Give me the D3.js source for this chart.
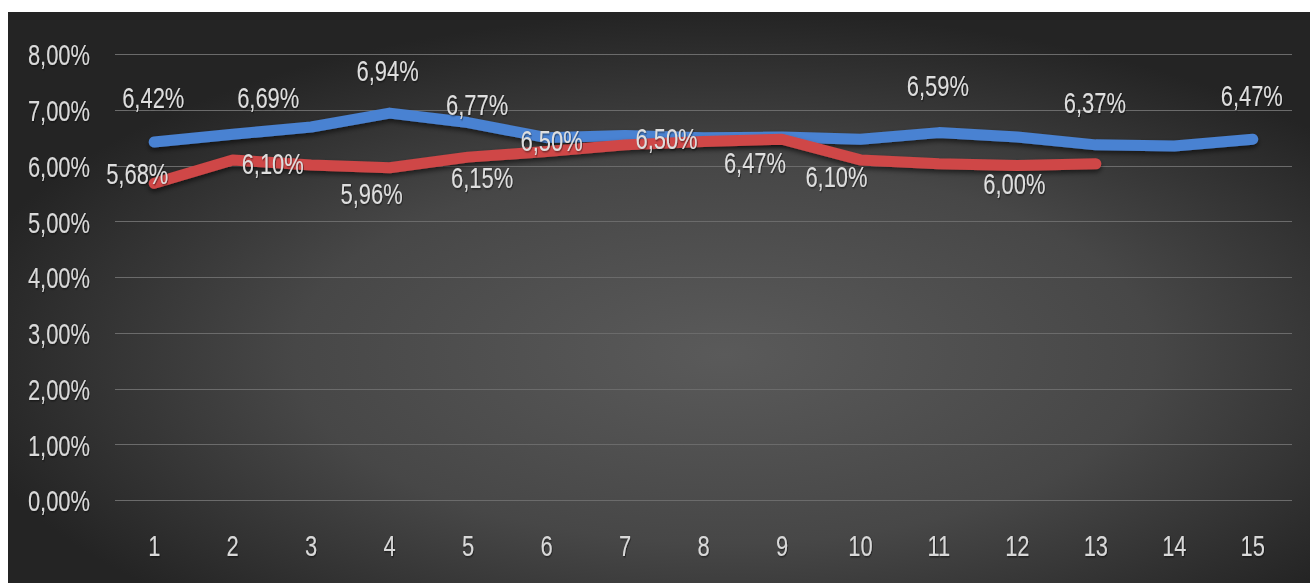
<!DOCTYPE html>
<html>
<head>
<meta charset="utf-8">
<script src="https://cdn.jsdelivr.net/npm/d3@7"></script>
<style>
  html, body { margin: 0; padding: 0; background: #ffffff; }
  svg { display: block; }
  text { font-family: "Liberation Sans", Arial, sans-serif; }
</style>
</head>
<body>
<svg id="chart" width="1310" height="583"></svg>
<script>
// ---- data ----
const categories = [1, 2, 3, 4, 5, 6, 7, 8, 9, 10, 11, 12, 13, 14, 15];
const blueValues = [6.42, 6.56, 6.69, 6.94, 6.77, 6.50, 6.54, 6.50, 6.51, 6.47, 6.59, 6.51, 6.37, 6.35, 6.47];
const redValues  = [5.68, 6.10, 6.01, 5.96, 6.15, 6.25, 6.37, 6.43, 6.47, 6.10, 6.03, 6.00, 6.03];
const yTicks = [0, 1, 2, 3, 4, 5, 6, 7, 8];
// which points carry a data label
const blueLabeled = [1, 3, 4, 5, 6, 8, 11, 13, 15];
const redLabeled  = [1, 2, 4, 5, 9, 10, 12];

// ---- layout (label offsets in px, relative to the point) ----
const blueLabelOffsets = {1:[-1,-45], 3:[-43,-30], 4:[-2,-43], 5:[9,-18], 6:[5,3], 8:[-37,1], 11:[-1,-47], 13:[-1,-43], 15:[-1,-44]};
const redLabelOffsets  = {1:[-17,-10], 2:[40,3], 4:[-18,25], 5:[14,20], 9:[-27,23], 10:[-24,16], 12:[-3,18]};

const FS = 30, SX = 0.73;

const svg = d3.select("#chart");
const W = 1310, H = 583;

const defs = svg.append("defs");
const grad = defs.append("radialGradient")
  .attr("id", "bg").attr("cx", "0.55").attr("cy", "0.6").attr("r", "0.6")
  .attr("fx", "0.55").attr("fy", "0.6");
grad.append("stop").attr("offset", "0").attr("stop-color", "#5a5a5a");
grad.append("stop").attr("offset", "0.55").attr("stop-color", "#474747");
grad.append("stop").attr("offset", "1").attr("stop-color", "#242424");

const shadow = defs.append("filter").attr("id", "shadow")
  .attr("x", "-5%").attr("y", "-50%").attr("width", "110%").attr("height", "200%");
shadow.append("feDropShadow").attr("dx", 0).attr("dy", 3).attr("stdDeviation", 2.5)
  .attr("flood-color", "#000").attr("flood-opacity", 0.55);

const tshadow = defs.append("filter").attr("id", "tshadow")
  .attr("x", "-20%").attr("y", "-20%").attr("width", "140%").attr("height", "140%");
tshadow.append("feDropShadow").attr("dx", 1).attr("dy", 1).attr("stdDeviation", 1)
  .attr("flood-color", "#000").attr("flood-opacity", 0.6);

svg.append("rect").attr("x", 8).attr("y", 12).attr("width", W - 8).attr("height", H - 12)
  .attr("fill", "url(#bg)");

const x = d3.scaleBand().domain(categories).range([115, 1292]);
const y = d3.scaleLinear().domain([0, 8]).range([500, 54]);
const cx = d => x(d) + x.bandwidth() / 2;

// gridlines
svg.append("g").selectAll("line").data(yTicks).join("line")
  .attr("x1", 115).attr("x2", 1292)
  .attr("y1", d => Math.round(y(d)) + 0.5).attr("y2", d => Math.round(y(d)) + 0.5)
  .attr("stroke", "#6b6b6b").attr("stroke-width", 1.2);

// y axis
const yAxis = d3.axisLeft(y).tickValues(yTicks)
  .tickFormat(d => d3.format(".2f")(d).replace(".", ",") + "%")
  .tickSize(0).tickPadding(0);
const gy = svg.append("g").attr("transform", "translate(90,0)").call(yAxis);
gy.select(".domain").remove();
gy.selectAll("text").attr("fill", "#d9d9d9").attr("font-size", FS)
  .attr("x", 0).attr("dy", "0.36em").attr("transform", `scale(${SX},1)`)
  .attr("filter", "url(#tshadow)");

// x axis
const xAxis = d3.axisBottom(x).tickSize(0).tickPadding(0);
const gx = svg.append("g").attr("transform", "translate(0,545)").call(xAxis);
gx.select(".domain").remove();
gx.selectAll("text").attr("fill", "#d9d9d9").attr("font-size", FS)
  .attr("y", 0).attr("dy", "0.36em").attr("transform", `scale(${SX},1)`)
  .attr("filter", "url(#tshadow)");

// lines
const line = d3.line()
  .x((d, i) => cx(categories[i]))
  .y(d => y(d))
  .curve(d3.curveLinear);

svg.append("path").datum(blueValues).attr("d", line)
  .attr("fill", "none").attr("stroke", "#4a82d2").attr("stroke-width", 11)
  .attr("stroke-linecap", "round").attr("stroke-linejoin", "round")
  .attr("filter", "url(#shadow)");

svg.append("path").datum(redValues).attr("d", line)
  .attr("fill", "none").attr("stroke", "#cf4747").attr("stroke-width", 11)
  .attr("stroke-linecap", "round").attr("stroke-linejoin", "round")
  .attr("filter", "url(#shadow)");

// data labels
const fmt = v => d3.format(".2f")(v).replace(".", ",") + "%";
function labels(values, labeled, offsets) {
  const g = svg.append("g").selectAll("g").data(labeled).join("g")
    .attr("transform", c => `translate(${cx(c) + offsets[c][0]},${y(values[c - 1]) + offsets[c][1]})`);
  g.append("text")
    .attr("dy", "0.36em")
    .attr("text-anchor", "middle")
    .attr("transform", `scale(${SX},1)`)
    .attr("fill", "#dedede").attr("font-size", FS)
    .attr("filter", "url(#tshadow)")
    .text(c => fmt(values[c - 1]));
}
labels(blueValues, blueLabeled, blueLabelOffsets);
labels(redValues, redLabeled, redLabelOffsets);
</script>
</body>
</html>
